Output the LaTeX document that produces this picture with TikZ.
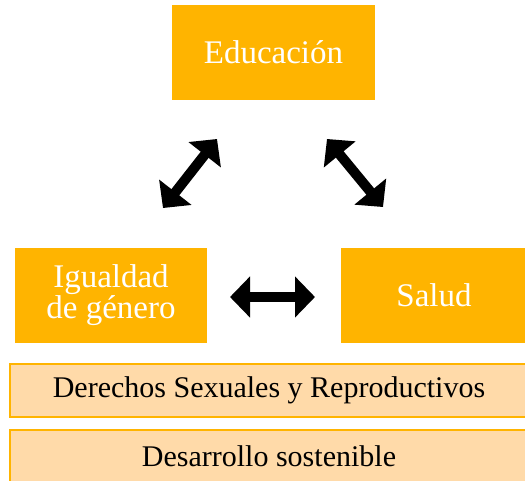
\documentclass[tikz,border=0pt]{standalone}
\usepackage{fontspec}
\setmainfont{Liberation Serif}
\usetikzlibrary{arrows.meta}
\definecolor{boxorange}{HTML}{FFB400}
\definecolor{peach}{HTML}{FFDAA9}
\tikzset{
  topbox/.style={fill=boxorange, draw=none, text=white, inner sep=0pt, align=center,
    font=\fontsize{33}{30}\selectfont},
  bandbox/.style={fill=peach, draw=boxorange, line width=2.5pt, text=black, inner sep=0pt,
    font=\fontsize{30}{32}\selectfont},
  bigarrow/.style={line width=10pt, {Triangle[length=20pt,width=40pt]}-{Triangle[length=20pt,width=40pt]}}
}
\begin{document}
\begin{tikzpicture}[x=1pt,y=-1pt]
\useasboundingbox (0,0) rectangle (525,480);
\clip (0,0) rectangle (525,480);
\fill[white] (0,0) rectangle (525,480);
% boxes
\node[topbox, minimum width=203pt, minimum height=95pt] (edu) at (273.5,52.5) {Educación};
\node[topbox, minimum width=192pt, minimum height=95pt] (igu) at (111,295) {Igualdad\\de género};
\node[topbox, minimum width=186pt, minimum height=95pt] (sal) at (434,295) {Salud};
\node[bandbox, minimum width=518pt, minimum height=53pt] (dsr) at (269,390.5) {Derechos Sexuales y Reproductivos};
\node[bandbox, minimum width=518pt, minimum height=53pt] (des) at (269,456.5) {Desarrollo sostenible};
% arrow end points
\coordinate (a1) at (163,208);
\coordinate (a2) at (217,139);
\coordinate (b1) at (327,139);
\coordinate (b2) at (383,207);
\coordinate (c1) at (230,297);
\coordinate (c2) at (315,297);
\draw[bigarrow] (a1) -- (a2);
\draw[bigarrow] (b1) -- (b2);
\draw[bigarrow] (c1) -- (c2);
\end{tikzpicture}
\end{document}
